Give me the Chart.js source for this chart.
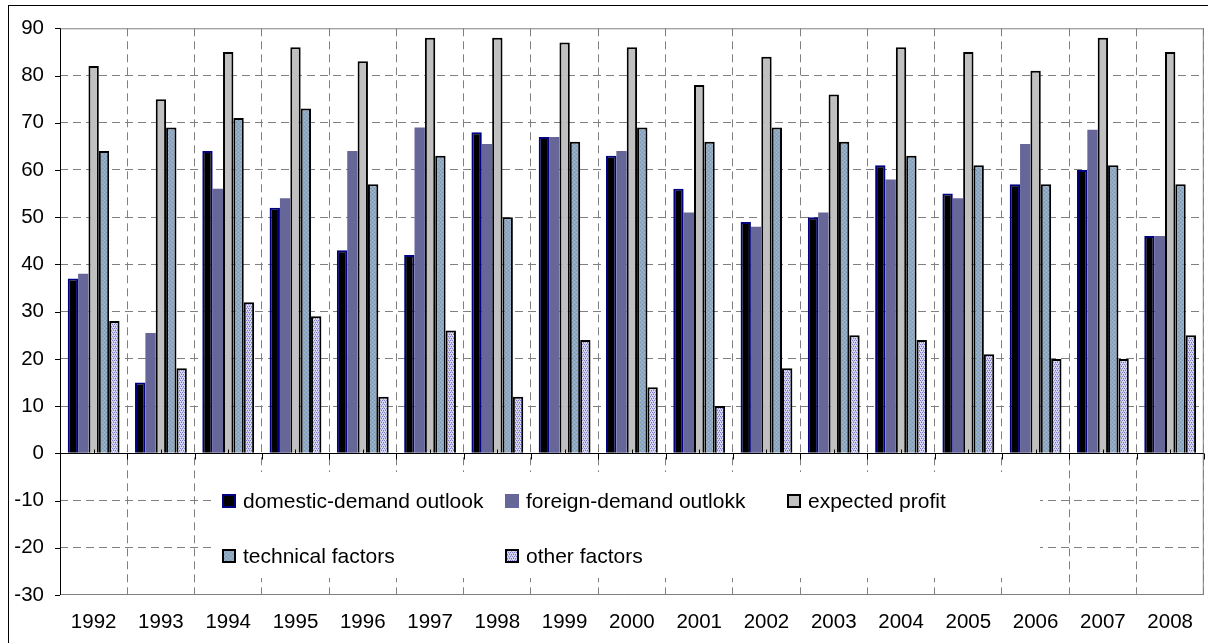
<!DOCTYPE html>
<html><head><meta charset="utf-8">
<script src="https://cdn.jsdelivr.net/npm/chart.js@4.4.1/dist/chart.umd.min.js"></script>
<style>html,body{margin:0;padding:0;background:#fff;overflow:hidden}</style>
</head><body>
<canvas id="c" width="1208" height="643"></canvas>
<script>
const years = ['1992','1993','1994','1995','1996','1997','1998','1999','2000','2001','2002','2003','2004','2005','2006','2007','2008'];
const domesticDemand = [37, 15, 64, 52, 43, 42, 68, 67, 63, 56, 49, 50, 61, 55, 57, 60, 46];
const foreignDemand  = [38, 25.5, 56, 54, 64, 69, 65.5, 67, 64, 51, 48, 51, 58, 54, 65.5, 68.5, 46];
const expectedProfit = [82, 75, 85, 86, 83, 88, 88, 87, 86, 78, 84, 76, 86, 85, 81, 88, 85];
const technicalFactors = [64, 69, 71, 73, 57, 63, 50, 66, 69, 66, 69, 66, 63, 61, 57, 61, 57];
const otherFactors   = [28, 18, 32, 29, 12, 26, 12, 24, 14, 10, 18, 25, 24, 21, 20, 20, 25];
const seriesNames = ['domestic-demand outlook', 'foreign-demand outlokk', 'expected profit', 'technical factors', 'other factors'];
const yTicks = { min: -30, max: 90, step: 10 };

const canvas = document.getElementById('c');
const mainCtx = canvas.getContext('2d');
function makePattern(w, h, draw) {
  const t = document.createElement('canvas'); t.width = w; t.height = h;
  draw(t.getContext('2d'));
  return mainCtx.createPattern(t, 'repeat');
}
const techPattern = makePattern(4, 4, g => {
  g.fillStyle = '#8fa9c3'; g.fillRect(0, 0, 4, 4);
  g.fillStyle = '#a3bbd2'; g.fillRect(0, 0, 1, 1); g.fillRect(2, 2, 1, 1);
  g.fillStyle = '#7e97b0'; g.fillRect(2, 0, 1, 1); g.fillRect(0, 2, 1, 1);
});
const otherPattern = makePattern(4, 4, g => {
  g.fillStyle = '#d8d8f4'; g.fillRect(0, 0, 4, 4);
  g.fillStyle = '#7878cc'; g.fillRect(0, 0, 1, 1); g.fillRect(2, 0, 1, 1); g.fillRect(1, 2, 1, 1); g.fillRect(3, 2, 1, 1);
  g.fillStyle = '#a4a4e0'; g.fillRect(1, 1, 1, 1); g.fillRect(3, 3, 1, 1);
});

const styles = [
  { fill: '#000000', border: '#000080', bw: 2 },
  { fill: '#666699', border: '#666699', bw: 0 },
  { fill: '#c0c0c0', border: '#000000', bw: 2 },
  { fill: techPattern, border: '#000000', bw: 2 },
  { fill: otherPattern, border: '#000000', bw: 2 }
];
const seriesData = [domesticDemand, foreignDemand, expectedProfit, technicalFactors, otherFactors];

const FONT = "'Liberation Sans', Arial, sans-serif";
Chart.defaults.font.family = FONT;
Chart.defaults.font.size = 20.5;
Chart.defaults.color = '#000';

const framePlugin = {
  id: 'frame',
  beforeDraw(chart) {
    const c = chart.ctx;
    c.save(); c.fillStyle = '#fff'; c.fillRect(0, 0, chart.width, chart.height); c.restore();
  },
  afterDatasetsDraw(chart) {
    const c = chart.ctx, a = chart.chartArea, x = chart.scales.x, y = chart.scales.y;
    c.save();
    c.strokeStyle = '#808080'; c.lineWidth = 1; c.setLineDash([]);
    c.beginPath();
    c.moveTo(a.left, a.top + 0.5); c.lineTo(a.right, a.top + 0.5);
    c.moveTo(a.right - 0.5, a.top); c.lineTo(a.right - 0.5, a.bottom);
    c.moveTo(a.left, a.bottom - 0.5); c.lineTo(a.right, a.bottom - 0.5);
    c.stroke();
    // legend box
    const lx0 = 212, lx1 = 1040, ly0 = 472, ly1 = 578;
    c.fillStyle = '#fff'; c.fillRect(lx0, ly0, lx1 - lx0, ly1 - ly0);
    // y axis + ticks
    c.strokeStyle = '#000';
    c.beginPath();
    c.moveTo(a.left + 0.5, a.top); c.lineTo(a.left + 0.5, a.bottom);
    for (let v = yTicks.min; v <= yTicks.max; v += yTicks.step) {
      const py = Math.round(y.getPixelForValue(v)) + 0.5;
      c.moveTo(a.left - 5, py); c.lineTo(a.left, py);
    }
    const zy = Math.round(y.getPixelForValue(0)) + 0.5;
    c.moveTo(a.left, zy); c.lineTo(a.right, zy);
    const cw = (a.right - a.left) / years.length;
    for (let i = 0; i <= years.length; i++) {
      const px = Math.round(a.left + i * cw) + 0.5;
      c.moveTo(px, zy); c.lineTo(px, zy + 6);
    }
    for (let i = 0; i < years.length; i++) {
      const px = Math.round(x.getPixelForValue(i)) + 0.5;
      c.moveTo(px, zy - 4); c.lineTo(px, zy);
    }
    c.stroke();
    c.strokeRect(8.5, 5.5, 1220, 700);
    // legend items
    const cols = [222, 505, 787];
    const rows = [501, 556];
    c.font = '21px ' + FONT; c.textBaseline = 'middle'; c.textAlign = 'left';
    seriesNames.forEach((name, i) => {
      const sx = i < 3 ? cols[i] : cols[i - 3];
      const sy = i < 3 ? rows[0] : rows[1];
      const st = styles[i];
      c.fillStyle = st.fill;
      c.fillRect(sx, sy - 7, 14, 14);
      if (st.bw) { c.strokeStyle = st.border; c.lineWidth = 2; c.strokeRect(sx + 1, sy - 6, 12, 12); }
      c.fillStyle = '#000';
      c.fillText(name, sx + 21, sy + 1);
    });
    c.restore();
  }
};

new Chart(canvas, {
  type: 'bar',
  data: {
    labels: years,
    datasets: seriesData.map((d, i) => ({
      label: seriesNames[i],
      data: d,
      backgroundColor: styles[i].fill,
      borderColor: styles[i].border,
      borderWidth: styles[i].bw,
      categoryPercentage: 0.77,
      barPercentage: 1.0
    }))
  },
  options: {
    responsive: false,
    animation: false,
    layout: { padding: { left: 0, top: 25, right: 1, bottom: 0 } },
    plugins: { legend: { display: false }, tooltip: { enabled: false }, title: { display: false } },
    scales: {
      x: {
        afterFit(s) { s.height = 48; },
        grid: { color: '#808080', lineWidth: 1, drawTicks: false, offset: true },
        border: { display: false, dash: [8, 5] },
        ticks: { padding: 15, font: { size: 20.5 }, color: '#000', maxRotation: 0, autoSkip: false }
      },
      y: {
        min: yTicks.min, max: yTicks.max,
        afterFit(s) { s.width = 60; },
        grid: {
          drawTicks: false, lineWidth: 1,
          color: ctx => { const v = ctx.tick ? ctx.tick.value : null; return (v === 0 || v === yTicks.max || v === yTicks.min) ? 'rgba(0,0,0,0)' : '#808080'; }
        },
        border: { display: false, dash: [8, 5] },
        ticks: { stepSize: yTicks.step, padding: 16, font: { size: 20.5 }, color: '#000' }
      }
    }
  },
  plugins: [framePlugin]
});
</script>
</body></html>
